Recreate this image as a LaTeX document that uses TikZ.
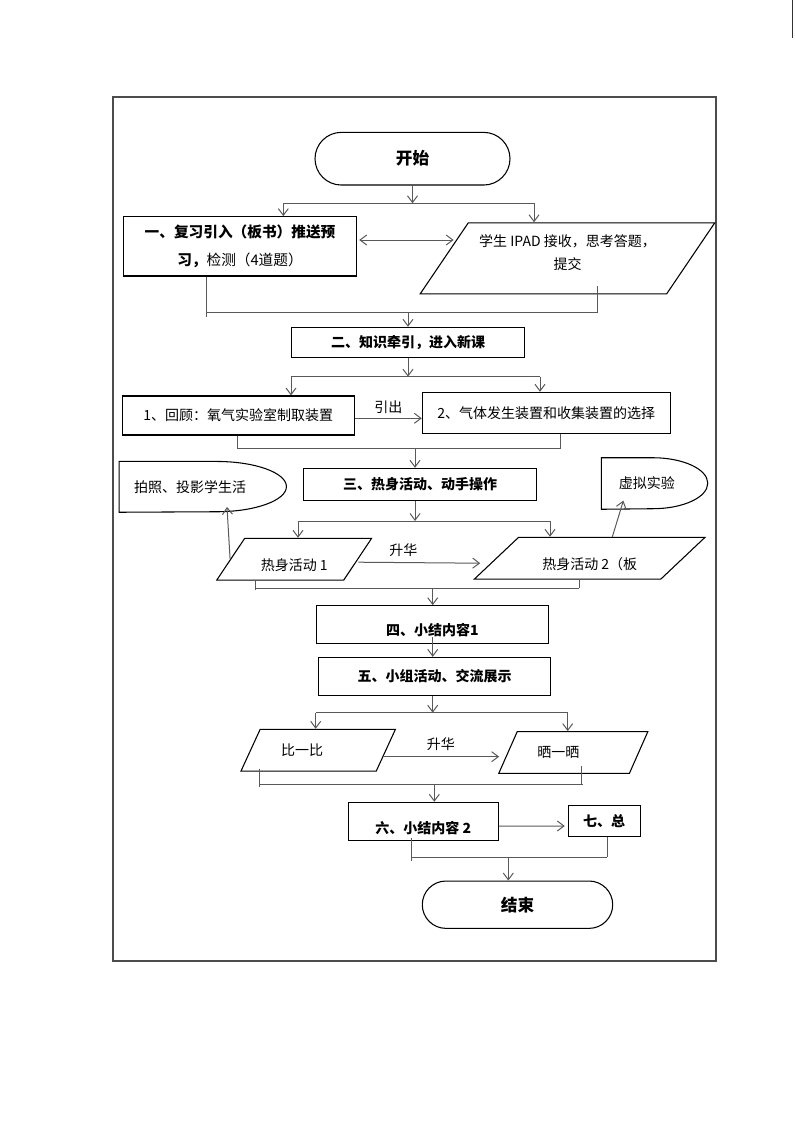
\documentclass[tikz,border=0pt]{standalone}
\usepackage{fontspec}
\setmainfont{Noto Sans CJK SC}
\usetikzlibrary{arrows.meta,shapes.geometric,calc}
\tikzset{box/.style={draw=black,line width=0.8pt,inner sep=2pt,align=center,font=\fontsize{10.5}{13}\selectfont},term/.style={box,font=\bfseries\fontsize{12.5}{14}\selectfont},io/.style={box,trapezium,trapezium stretches=true},link/.style={draw=black!65,line width=0.75pt},arrow/.style={link,-{Straight Barb[length=5pt,width=7.5pt]}},both/.style={link,{Straight Barb[length=5pt,width=7.5pt]}-{Straight Barb[length=5pt,width=7.5pt]}},lowtext/.style={text height=#1,text depth=0pt},lab/.style={font=\fontsize{10.5}{13}\selectfont,inner sep=2pt,align=center}}

\begin{document}
\begin{tikzpicture}[x=0.75pt,y=-0.75pt]
\useasboundingbox (0,0) rectangle (794,1123);
\draw[line width=1.5pt,black!70] (113,97) rectangle (716,961);
\draw[line width=1pt,black!80] (792.5,0) -- (792.5,38);
% nodes
\node[term,rounded corners=19.75pt,minimum width=146.25pt,minimum height=39.5pt] (start) at (412.5,158.7) {开始};
\node[box,font=\fontsize{11}{21}\selectfont,minimum width=175pt,minimum height=44.5pt] (review) at (240,246.3) {\bfseries 一、复习引入（板书）推送预\\{\bfseries 习，}检测（4道题）};
\node[io,text depth=9pt,trapezium left angle=50,trapezium right angle=130,minimum width=221.25pt,minimum height=53.25pt,font=\fontsize{10.5}{17.5}\selectfont] (ipad) at (567.5,258.3) {学生 IPAD 接收，思考答题，\\提交};
\node[box,font=\bfseries\fontsize{10.5}{13}\selectfont,minimum width=174.5pt,minimum height=22.5pt] (newles) at (408,342.3) {二、知识牵引，进入新课};
\node[box,minimum width=174pt,minimum height=29.25pt] (recall) at (238.3,415.5) {1、回顾：氧气实验室制取装置};
\node[box,minimum width=185.8pt,minimum height=30.75pt] (select) at (546.2,412.8) {2、气体发生装置和收集装置的选择};
\node[box,font=\bfseries\fontsize{10.5}{13}\selectfont,minimum width=175pt,minimum height=23.8pt] (warm) at (420,484.2) {三、热身活动、动手操作};
\node[lab,minimum width=125.55pt,minimum height=37.7pt] (photo) at (203,486.85) {拍照、投影学生活\hspace{19.5pt}};
\node[lab,minimum width=79.7pt,minimum height=38.25pt] (virt) at (654.85,483.5) {虚拟实验\hspace{12pt}};
\draw[box] (photo.north west) -- ++(97.4,0) arc[start angle=90,end angle=-90,x radius=52.5pt,y radius=18.86pt] -- (photo.south west) -- cycle;
\draw[box] (virt.north west) -- ++(51.3,0) arc[start angle=90,end angle=-90,x radius=41.25pt,y radius=19.12pt] -- (virt.south west) -- cycle;
\node[io,lowtext=17pt,trapezium left angle=54,trapezium right angle=126,minimum width=116.25pt,minimum height=31.3pt] (act1) at (294.2,559.2) {热身活动 1};
\node[io,lowtext=17pt,trapezium left angle=42,trapezium right angle=138,minimum width=173.25pt,minimum height=31.3pt] (act2) at (589.7,558.2) {热身活动 2（板};
\node[box,lowtext=17pt,font=\bfseries\fontsize{10.5}{13}\selectfont,minimum width=173.7pt,minimum height=28.2pt] (sum1) at (432.5,624.5) {四、小结内容1};
\node[box,font=\bfseries\fontsize{10.5}{13}\selectfont,minimum width=174.3pt,minimum height=28.3pt] (group) at (434.5,676.2) {五、小组活动、交流展示};
\node[io,trapezium left angle=54,trapezium right angle=126,minimum width=116.25pt,minimum height=31.3pt] (cmp) at (318.2,750.2) {比一比\hspace{24pt}};
\node[io,trapezium left angle=54,trapezium right angle=126,minimum width=112.5pt,minimum height=31.3pt] (show) at (573.3,752.5) {晒一晒\hspace{22.5pt}};
\node[box,lowtext=18.5pt,font=\bfseries\fontsize{10.5}{13}\selectfont,minimum width=112.5pt,minimum height=28.8pt] (sum2) at (423.3,821.5) {六、小结内容 2};
\node[box,font=\bfseries\fontsize{10.5}{13}\selectfont,minimum width=53.8pt,minimum height=22.7pt] (total) at (604.2,820.9) {七、总};
\node[term,rounded corners=17.7pt,minimum width=142.8pt,minimum height=35.5pt] (stop) at (517.5,904.7) {结束};
% split and merge points
\coordinate (j1a) at (283.3,203.3); \coordinate (j1b) at (534,203.3);
\coordinate (m1a) at (206.7,312.5); \coordinate (m1b) at (597.7,312.5);
\coordinate (j2a) at (291,376.7); \coordinate (j2b) at (540,376.7);
\coordinate (m2a) at (237.7,448.3); \coordinate (m2b) at (560.7,448.3); \coordinate (m2c) at (415,448.3);
\coordinate (j3a) at (298,521); \coordinate (j3b) at (550,521); \coordinate (j3c) at (415,521);
\coordinate (m3a) at (255.7,588); \coordinate (m3b) at (579.3,588); \coordinate (m3c) at (432.7,588);
\coordinate (j4a) at (315.7,712.7); \coordinate (j4b) at (567.7,712.7); \coordinate (j4c) at (432.7,712.7);
\coordinate (m5a) at (259,784); \coordinate (m5b) at (581,784); \coordinate (m5c) at (434.3,784);
\coordinate (m6a) at (411.7,857); \coordinate (m6b) at (607.3,857); \coordinate (m6c) at (508.3,857);
% connectors
\draw[arrow] (start.south) -- (start.south |- j1a);
\draw[link] (j1a) -- (j1b);
\draw[arrow] (j1a) -- (j1a |- review.north);
\draw[arrow] (j1b) -- (j1b |- ipad.north);
\draw[both] ($(review.east)+(2,-6.3)$) -- ($(ipad.left side)+(10,-18.3)$);
\draw[link] (m1a |- review.south) -- ($(m1a)+(0,4)$);
\draw[link] ($(m1b |- ipad.south)+(0,-8)$) -- (m1b);
\draw[link] (m1a) -- (m1b);
\draw[arrow] (newles.north |- m1a) -- (newles.north);
\draw[arrow] (newles.south) -- (newles.south |- j2a);
\draw[link] (j2a) -- (j2b);
\draw[arrow] (j2a) -- (j2a |- recall.north);
\draw[arrow] (j2b) -- (j2b |- select.north);
\draw[arrow] ($(recall.east)+(0,2.8)$) -- ($(recall.east -| select.west)+(0,2.8)$) node[lab,midway,above=1pt] {引出};
\draw[link] (m2a |- recall.south) -- (m2a) -- (m2b) -- (m2b |- select.south);
\draw[arrow] (m2c) -- (m2c |- warm.north);
\draw[arrow] (j3c |- warm.south) -- (j3c);
\draw[link] (j3a) -- (j3b);
\draw[arrow] (j3a) -- (j3a |- act1.north);
\draw[arrow] (j3b) -- (j3b |- act2.north);
\draw[arrow] (act1.left side) -- ([xshift=18pt,yshift=4pt]photo.south);
\draw[arrow] (act2.top side) -- ([xshift=-23.6pt,yshift=6.5pt]virt.south);
\draw[arrow] ($(act1.right side)+(0,3)$) -- ($(act2.left side)+(-15.5,5)$) node[lab,pos=0.37,above=2pt] {升华};
\draw[link] (m3a |- act1.south) -- ($(m3a)+(0,2)$);
\draw[link] (m3b |- act2.south) -- (m3b);
\draw[link] (m3a) -- (m3b);
\draw[arrow] (m3c) -- (m3c |- sum1.north);
\draw[arrow] ($(m3c |- sum1.south)+(0,-7)$) -- (m3c |- group.north);
\draw[arrow] (j4c |- group.south) -- (j4c);
\draw[link] (j4a) -- (j4b);
\draw[arrow] (j4a) -- (j4a |- cmp.north);
\draw[arrow] (j4b) -- (j4b |- show.north);
\draw[arrow] ($(cmp.right side)+(-3.6,6.5)$) -- ($(show.left side)+(-8.3,4.2)$) node[lab,midway,above=2pt] {升华};
\draw[link] ($(m5a |- cmp.south)+(0,-3)$) -- ($(m5a)+(0,2.5)$);
\draw[link] ($(m5b |- show.south)+(0,-8)$) -- (m5b);
\draw[link] (m5a) -- ($(m5b)+(2,0)$);
\draw[arrow] (m5c) -- (m5c |- sum2.north);
\draw[arrow] ($(sum2.east)+(0,4.5)$) -- ($(total.west)+(-3,5.1)$);
\draw[link] ($(m6a |- sum2.south)+(0,-3)$) -- ($(m6a)+(0,3.7)$);
\draw[link] (m6b |- total.south) -- (m6b);
\draw[link] (m6a) -- (m6b);
\draw[arrow] (m6c) -- (m6c |- stop.north);
\end{tikzpicture}
\end{document}
